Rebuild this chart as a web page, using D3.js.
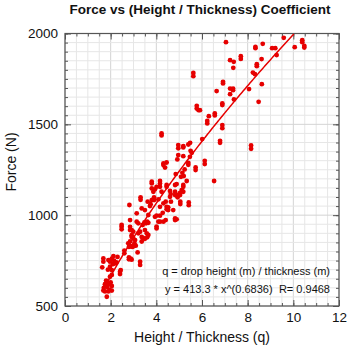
<!DOCTYPE html>
<html><head><meta charset="utf-8">
<script src="https://cdn.jsdelivr.net/npm/d3@7"></script>
<style>body{margin:0;background:#fff}svg{display:block}text{font-family:"Liberation Sans",Arial,Helvetica,sans-serif}</style>
</head><body><svg id="c" width="350" height="352"></svg>
<script>
const title = "Force vs (Height / Thickness) Coefficient";
const xLabel = "Height / Thickness (q)";
const yLabel = "Force (N)";
const xTicks = [0, 2, 4, 6, 8, 10, 12];
const yTicks = [500, 1000, 1500, 2000];
const fitA = 413.3, fitB = 0.6836, fitRange = [1.65, 10.02];
const note1 = "q = drop height (m) / thickness (m)";
const note2a = "y = 413.3 * x^(0.6836)";
const note2b = "R= 0.9468";
const q = [
7.05,7.23,7.39,7.37,7.70,7.70,8.34,8.34,8.66,8.61,8.40,8.40,8.23,8.32,8.62,8.06,8.48,9.07,9.21,9.27,9.58,10.06,10.39,10.39,10.48,10.48,
6.92,6.92,6.64,7.23,7.36,7.36,7.23,7.40,6.89,6.89,6.30,6.23,6.23,6.56,6.56,6.89,6.89,6.79,6.79,8.15,8.15,6.12,6.12,6.01,6.53,5.72,5.72,
5.62,5.62,5.77,5.77,5.85,5.91,5.48,5.40,4.96,4.96,5.18,5.18,5.50,5.55,4.96,5.18,5.47,4.92,5.40,5.40,5.24,4.85,5.14,5.20,5.08,5.33,
4.89,4.82,5.18,5.18,5.11,5.18,4.93,4.93,5.42,5.42,4.23,4.23,4.31,4.31,4.38,4.45,3.80,3.80,3.80,4.16,4.16,4.16,3.90,3.90,3.87,4.23,
4.45,4.45,4.60,4.63,4.60,4.41,4.31,4.64,4.52,4.52,4.74,4.82,4.82,4.89,5.05,5.05,5.04,5.04,3.50,3.36,3.31,3.31,3.14,3.65,4.01,4.16,
2.82,2.85,4.82,4.82,4.09,4.16,4.28,3.94,4.09,4.16,3.14,3.21,2.48,3.62,3.72,4.01,3.94,3.80,4.45,4.45,
1.68,1.68,1.63,1.90,1.97,2.05,2.15,2.25,2.10,2.20,1.97,2.05,2.41,2.41,2.05,1.97,1.80,1.85,1.75,1.95,2.00,1.70,1.85,2.05,
1.68,1.75,1.95,1.90,2.05,1.83,2.80,2.88,2.95,3.02,3.10,2.80,2.88,2.92,2.80,2.60,3.29,3.29,3.07,3.04,3.21,3.29,2.92,2.99,
2.92,2.92,2.99,3.40,3.48,3.55,3.60,3.65,4.01,4.01,4.31,4.41,3.50,3.58,3.43,3.36,3.65,2.85,2.77,2.48,2.48,2.85,2.85,3.36,3.50,3.60,
2.44,2.30,2.12,1.88,2.60,3.18,3.75
];
const force = [
1952,1853,1844,1811,1875,1860,1926,1919,1943,1859,1831,1820,1785,1776,1721,1694,1624,1919,1919,1881,1976,1925,1963,1952,1932,1923,
1734,1725,1683,1697,1697,1688,1666,1637,1615,1606,1545,1519,1505,1560,1549,1496,1479,1409,1398,1384,1365,1299,1281,1419,1188,1263,1248,
1783,1765,1602,1587,1578,1578,1398,1389,1386,1368,1380,1373,1354,1343,1331,1325,1321,1307,1288,1277,1252,1226,1233,1215,1211,1188,
1171,1166,1166,1156,1138,1129,1111,1098,1070,1055,1450,1439,1285,1276,1262,1290,1184,1175,1147,1188,1175,1156,1098,1083,1129,1129,
1166,1156,1133,1116,1101,1074,1065,1074,1043,1028,1028,982,973,977,1074,1061,1123,1111,1028,1037,1098,1085,1010,1001,997,997,
1056,973,1129,1111,1087,1046,1013,991,964,964,964,955,946,1074,1050,1156,1142,1083,1046,1032,
762,744,713,753,744,760,750,740,730,735,716,698,689,676,671,661,640,630,620,620,630,600,605,610,
585,580,588,580,585,551,825,830,825,830,832,768,760,755,757,790,744,726,863,845,900,909,918,909,
890,880,873,946,960,955,965,958,937,927,964,973,918,900,873,855,891,855,845,936,922,936,918,880,870,878,
698,770,775,700,805,795,1060
];

const W = 350, H = 352;
const m = {l: 65, r: 339, t: 33.5, b: 306};
const svg = d3.select("#c");
const x = d3.scaleLinear().domain([0, 12]).range([m.l, m.r]);
const y = d3.scaleLinear().domain([500, 2000]).range([m.b, m.t]);

const minorX = d3.range(0, 12.01, 0.5);
const minorY = d3.range(500, 2000.1, 50);

// grid
const g = svg.append("g");
g.selectAll("line.gx").data(minorX).join("line")
  .attr("x1", d => x(d)).attr("x2", d => x(d)).attr("y1", m.t).attr("y2", m.b)
  .attr("stroke", d => d % 2 === 0 ? "#d4d4d4" : "#e6e6e6").attr("stroke-width", 1);
g.selectAll("line.gy").data(minorY).join("line")
  .attr("y1", d => y(d)).attr("y2", d => y(d)).attr("x1", m.l).attr("x2", m.r)
  .attr("stroke", d => d % 500 === 0 ? "#d4d4d4" : "#e6e6e6").attr("stroke-width", 1);

// axes with inward ticks
function axisGroup(axis, tr) {
  const a = svg.append("g").attr("transform", tr).call(axis);
  a.select(".domain").remove();
  a.selectAll("line").attr("stroke", "#555");
  return a;
}
const fmt = d => "";
axisGroup(d3.axisBottom(x).tickValues(minorX).tickSize(-3).tickFormat(fmt), `translate(0,${m.b})`);
axisGroup(d3.axisBottom(x).tickValues(xTicks).tickSize(-6).tickFormat(fmt), `translate(0,${m.b})`);
axisGroup(d3.axisTop(x).tickValues(minorX).tickSize(-3).tickFormat(fmt), `translate(0,${m.t})`);
axisGroup(d3.axisTop(x).tickValues(xTicks).tickSize(-6).tickFormat(fmt), `translate(0,${m.t})`);
axisGroup(d3.axisLeft(y).tickValues(minorY).tickSize(-3).tickFormat(fmt), `translate(${m.l},0)`);
axisGroup(d3.axisLeft(y).tickValues(yTicks).tickSize(-6).tickFormat(fmt), `translate(${m.l},0)`);
axisGroup(d3.axisRight(y).tickValues(minorY).tickSize(-3).tickFormat(fmt), `translate(${m.r},0)`);
axisGroup(d3.axisRight(y).tickValues(yTicks).tickSize(-6).tickFormat(fmt), `translate(${m.r},0)`);

// labels via axes
const xl = svg.append("g").attr("transform", `translate(0,${m.b})`)
  .call(d3.axisBottom(x).tickValues(xTicks).tickSize(0).tickPadding(6).tickFormat(d3.format("d")));
xl.select(".domain").remove();
xl.selectAll("text").attr("font-size", 13.5).attr("fill", "#111").attr("font-family", "Liberation Sans, Arial, sans-serif").attr("dy", "0.71em");
const yl = svg.append("g").attr("transform", `translate(${m.l},0)`)
  .call(d3.axisLeft(y).tickValues(yTicks).tickSize(0).tickPadding(7).tickFormat(d3.format("d")));
yl.select(".domain").remove();
yl.selectAll("text").attr("font-size", 13.5).attr("fill", "#111").attr("font-family", "Liberation Sans, Arial, sans-serif");

// frame
svg.append("rect").attr("x", m.l).attr("y", m.t).attr("width", m.r - m.l).attr("height", m.b - m.t)
  .attr("fill", "none").attr("stroke", "#555").attr("stroke-width", 1.2);

// points
svg.append("g").selectAll("circle").data(q.map((v, i) => [v, force[i]])).join("circle")
  .attr("cx", d => x(d[0])).attr("cy", d => y(d[1])).attr("r", 2.4).attr("fill", "#e60000");

// fit line
const fitX = d3.range(fitRange[0], fitRange[1], 0.05).concat([fitRange[1]]);
svg.append("path").datum(fitX)
  .attr("d", d3.line().x(d => x(d)).y(d => y(fitA * Math.pow(d, fitB))))
  .attr("fill", "none").attr("stroke", "#e60000").attr("stroke-width", 1.5);

// text
svg.append("text").attr("x", 200).attr("y", 13.5).attr("text-anchor", "middle")
  .attr("font-size", 13.5).attr("font-weight", "bold").attr("fill", "#111").text(title);
svg.append("text").attr("x", 202).attr("y", 342).attr("text-anchor", "middle")
  .attr("font-size", 14).attr("fill", "#111").text(xLabel);
svg.append("text").attr("transform", "translate(16,162) rotate(-90)").attr("text-anchor", "middle")
  .attr("font-size", 14).attr("fill", "#111").text(yLabel);
svg.append("text").attr("x", 330).attr("y", 275).attr("text-anchor", "end")
  .attr("font-size", 11).attr("fill", "#111").text(note1);
svg.append("text").attr("x", 165).attr("y", 292.5)
  .attr("font-size", 11).attr("fill", "#111").text(note2a);
svg.append("text").attr("x", 330).attr("y", 292.5).attr("text-anchor", "end")
  .attr("font-size", 11).attr("fill", "#111").text(note2b);
</script></body></html>
